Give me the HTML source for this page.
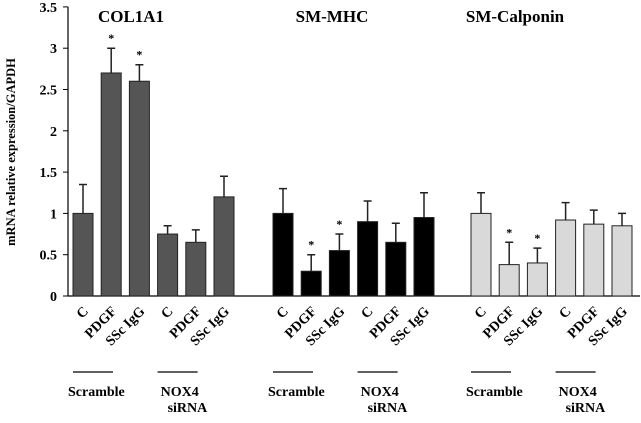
<!DOCTYPE html>
<html><head><meta charset="utf-8"><style>
body{margin:0;background:#fff}
svg text{font-family:"Liberation Serif","DejaVu Serif","Times New Roman",serif;font-weight:bold}
</style></head><body>
<svg id="chart" width="641" height="418" font-family="Liberation Serif, DejaVu Serif, serif" font-weight="bold">
<g id="axes"></g><g id="bars"></g><g id="labels"></g>
</svg>
<script>
const genes = ["COL1A1","SM-MHC","SM-Calponin"];
const conditions = ["C","PDGF","SSc IgG","C","PDGF","SSc IgG"];
const col1a1Values = [1,2.7,2.6,0.75,0.65,1.2];
const col1a1Errors = [0.35,0.3,0.2,0.1,0.15,0.25];
const mhcValues = [1,0.3,0.55,0.9,0.65,0.95];
const mhcErrors = [0.3,0.2,0.2,0.25,0.23,0.3];
const calpValues = [1,0.38,0.4,0.92,0.87,0.85];
const calpErrors = [0.25,0.27,0.18,0.21,0.17,0.15];
const significant = [[false,true,true,false,false,false],[false,true,true,false,false,false],[false,true,true,false,false,false]];
const yTicks = [0,0.5,1,1.5,2,2.5,3,3.5];
const groupLabels = ["Scramble","NOX4"];

const NS="http://www.w3.org/2000/svg";
function mk(tag,attrs,parent,txt){const e=document.createElementNS(NS,tag);for(const k in attrs)e.setAttribute(k,attrs[k]);if(txt!==undefined)e.textContent=txt;parent.appendChild(e);return e;}
const y0=296, yScale=82.6;
function y(v){return y0-v*yScale;}
const groupStart=[73,273,471], step=28.2, bw=20;
function x(g,i){return groupStart[g]+i*step;}
const fills=["#555555","#000000","#d9d9d9"];
const vals=[col1a1Values,mhcValues,calpValues], errs=[col1a1Errors,mhcErrors,calpErrors];
const axes=document.getElementById('axes'), bars=document.getElementById('bars'), labels=document.getElementById('labels');

let yl=mk('line',{x1:68,y1:y(3.5),x2:68,y2:y0,stroke:'#000','stroke-width':1.2},axes);


let xl=mk('line',{x1:68,y1:y0,x2:640,y2:y0,stroke:'#000','stroke-width':1.2},axes);


yTicks.forEach(t=>{
  let tk=mk('line',{x1:63,x2:68,y1:y(t),y2:y(t),stroke:'#000'},axes);
  
  
  let tl=mk('text',{x:57,y:y(t)+5,'text-anchor':'end','font-size':14},axes,String(t));
  
  
});
let yt=mk('text',{transform:'translate(15,152) rotate(-90)','text-anchor':'middle','font-size':12.5},axes,'mRNA relative expression/GAPDH');


const titleX=[131,332,515];
genes.forEach((gname,g)=>{
  let tt=mk('text',{x:titleX[g],y:y(3.5)+15,'text-anchor':'middle','font-size':17},labels,gname);
  
  
  vals[g].forEach((v,i)=>{
    const bx=x(g,i), cx=bx+bw/2;
    let r=mk('rect',{x:bx,y:y(v),width:bw,height:y0-y(v),fill:fills[g],stroke:'#222','stroke-width':1},bars);
    
    
    const top=y(v+errs[g][i]);
    let eb=mk('path',{d:`M${cx},${y(v)}V${top}M${cx-4},${top}H${cx+4}`,stroke:'#222','stroke-width':1.5,fill:'none'},bars);
    
    
    if(significant[g][i]){
      let s=mk('text',{x:cx,y:top-6,'text-anchor':'middle','font-size':12,'font-weight':'normal'},bars,'*');
      
      
    }
    let cl=mk('text',{transform:`translate(${cx+6},${312}) rotate(-45)`,'text-anchor':'end','font-size':14},labels,conditions[i]);
    
    
  });
  [0,1].forEach(k=>{
    const sx=x(g,k*3);
    let ln=mk('line',{x1:sx,x2:sx+40,y1:372,y2:372,stroke:'#000','stroke-width':1.2},labels);
    
    
    if(k===0){
      let gl=mk('text',{x:sx-5,y:396,'font-size':14},labels,groupLabels[0]);
      
      
    } else {
      let gl=mk('text',{x:sx+3,y:396,'font-size':14},labels,groupLabels[1]);
      
      
      let gl2=mk('text',{x:sx+10,y:412,'font-size':14},labels,'siRNA');
      
      
    }
  });
});
</script>
</body></html>
